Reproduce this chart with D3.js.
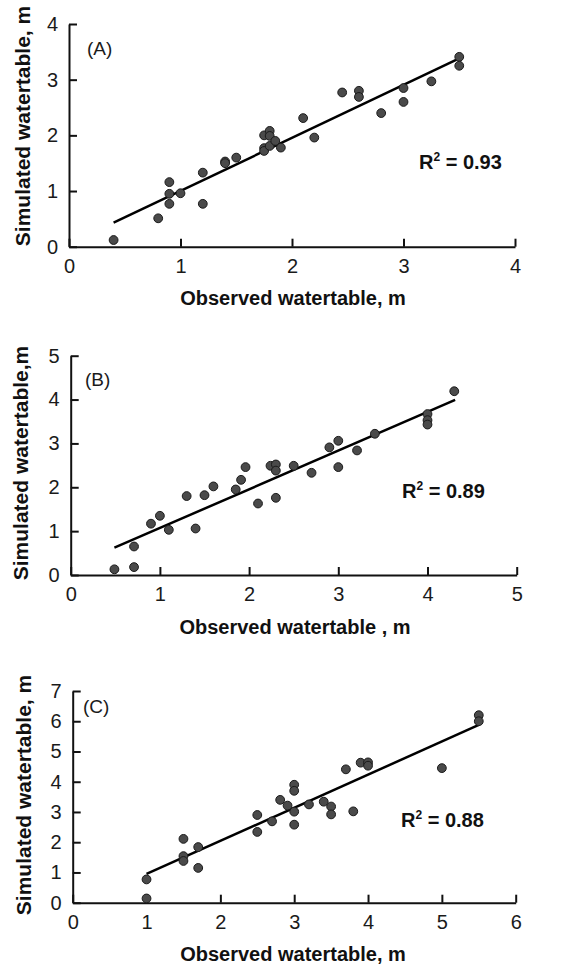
<!DOCTYPE html>
<meta charset="utf-8">
<script src="https://d3js.org/d3.v7.min.js"></script>
<style>
  body { margin: 0; background: #fff; }
  text { font-family: "Liberation Sans", Arial, sans-serif; }
</style>
<div id="chart"></div>
<script>
// Observed vs simulated watertable (m) for the three panels.
var obsA = [0.4, 0.8, 0.9, 0.9, 0.9, 1.0, 1.2, 1.2, 1.4, 1.4, 1.5, 1.75, 1.75, 1.75, 1.8, 1.8, 1.8, 1.85, 1.9, 2.1, 2.2, 2.45, 2.6, 2.6, 2.8, 3.0, 3.0, 3.25, 3.5, 3.5];
var simA = [0.12, 0.51, 1.16, 0.95, 0.77, 0.96, 1.33, 0.77, 1.53, 1.50, 1.60, 2.0, 1.77, 1.72, 2.08, 1.99, 1.81, 1.90, 1.78, 2.31, 1.96, 2.77, 2.80, 2.69, 2.40, 2.85, 2.60, 2.97, 3.41, 3.25];

var obsB = [0.49, 0.71, 0.71, 0.9, 1.0, 1.1, 1.3, 1.4, 1.5, 1.6, 1.85, 1.91, 1.96, 2.1, 2.24, 2.3, 2.3, 2.3, 2.5, 2.7, 2.9, 3.0, 3.0, 3.21, 3.41, 4.0, 4.0, 4.0, 4.3];
var simB = [0.13, 0.65, 0.18, 1.17, 1.35, 1.03, 1.80, 1.06, 1.82, 2.02, 1.95, 2.17, 2.46, 1.63, 2.49, 2.52, 2.38, 1.76, 2.49, 2.33, 2.91, 3.06, 2.46, 2.84, 3.22, 3.67, 3.53, 3.43, 4.19];

var obsC = [1.0, 1.0, 1.5, 1.5, 1.5, 1.7, 1.7, 2.5, 2.5, 2.7, 2.81, 2.91, 3.0, 3.0, 3.0, 3.0, 3.2, 3.4, 3.5, 3.5, 3.8, 3.7, 3.9, 4.0, 4.0, 5.0, 5.5, 5.5];
var simC = [0.77, 0.14, 2.11, 1.54, 1.38, 1.84, 1.15, 2.90, 2.34, 2.69, 3.40, 3.21, 3.90, 3.70, 3.01, 2.58, 3.25, 3.34, 3.18, 2.92, 3.02, 4.41, 4.63, 4.64, 4.53, 4.45, 6.20, 6.00];

// Fitted lines: slope, intercept, x range.
var fitSlope = [0.952, 0.882, 1.095];
var fitIntercept = [0.05, 0.19, -0.145];
var fitFrom = [0.4, 0.49, 1.0];
var fitTo = [3.5, 4.31, 5.5];

var panelNames = ["(A)", "(B)", "(C)"];
var r2Labels = ["0.93", "0.89", "0.88"];
var xMax = [4, 5, 6];
var yMax = [4, 5, 7];
var xTitles = ["Observed watertable, m", "Observed watertable , m", "Observed watertable, m"];
var yTitles = ["Simulated watertable, m", "Simulated watertable,m", "Simulated watertable, m"];

var points = [[obsA, simA], [obsB, simB], [obsC, simC]];

// Pixel layout of each panel.
var layout = [
  {x0: 69, x1: 515, y0: 246.7, y1: 24, yTitleX: 30, yTitleY: 126, xTitleX: 293, xTitleY: 305,
   tagX: 87, tagY: 55, r2X: 419, r2Y: 169},
  {x0: 70.7, x1: 516.7, y0: 575, y1: 355.7, yTitleX: 28, yTitleY: 463, xTitleX: 295, xTitleY: 634,
   tagX: 85, tagY: 386, r2X: 402, r2Y: 498},
  {x0: 72.7, x1: 515.7, y0: 902.7, y1: 691, yTitleX: 31, yTitleY: 795, xTitleX: 293, xTitleY: 961,
   tagX: 83, tagY: 713, r2X: 401, r2Y: 827}
];

var svg = d3.select("#chart")
  .append("svg")
  .attr("width", 576)
  .attr("height", 965);

layout.forEach(function(p, i) {
  var x = d3.scaleLinear().domain([0, xMax[i]]).range([p.x0, p.x1]);
  var y = d3.scaleLinear().domain([0, yMax[i]]).range([p.y0, p.y1]);
  var g = svg.append("g");

  // Axes with inward ticks.
  var ax = g.append("g")
    .attr("transform", "translate(0," + p.y0 + ")")
    .call(d3.axisBottom(x).ticks(xMax[i]).tickSizeInner(-8).tickSizeOuter(0).tickPadding(12));
  var ay = g.append("g")
    .attr("transform", "translate(" + p.x0 + ",0)")
    .call(d3.axisLeft(y).ticks(yMax[i]).tickSizeInner(-8).tickSizeOuter(0).tickPadding(11));

  [ax, ay].forEach(function(a) {
    a.attr("font-family", null).attr("font-size", null);
    a.select(".domain").attr("stroke", "#111").attr("stroke-width", 2);
    a.selectAll(".tick line").attr("stroke", "#111").attr("stroke-width", 2);
    a.selectAll(".tick text").attr("fill", "#1a1a1a").style("font-size", "20px");
  });

  // Regression line.
  g.append("line")
    .attr("x1", x(fitFrom[i]))
    .attr("y1", y(fitSlope[i] * fitFrom[i] + fitIntercept[i]))
    .attr("x2", x(fitTo[i]))
    .attr("y2", y(fitSlope[i] * fitTo[i] + fitIntercept[i]))
    .attr("stroke", "#000")
    .attr("stroke-width", 2.5);

  // Points.
  var obs = points[i][0], sim = points[i][1];
  g.append("g")
    .selectAll("circle")
    .data(d3.range(obs.length))
    .enter()
    .append("circle")
    .attr("cx", function(k) { return x(obs[k]); })
    .attr("cy", function(k) { return y(sim[k]); })
    .attr("r", 4.4)
    .attr("fill", "#4a4a4a")
    .attr("stroke", "#1a1a1a")
    .attr("stroke-width", 1);

  // Panel tag.
  g.append("text")
    .attr("x", p.tagX)
    .attr("y", p.tagY)
    .style("font-size", "19px")
    .attr("fill", "#1a1a1a")
    .text(panelNames[i]);

  // R squared.
  var r2 = g.append("text")
    .attr("x", p.r2X)
    .attr("y", p.r2Y)
    .style("font-size", "20px")
    .style("font-weight", "bold")
    .attr("fill", "#111");
  r2.append("tspan").text("R");
  r2.append("tspan").attr("dy", -8).style("font-size", "12px").text("2");
  r2.append("tspan").attr("dy", 8).text(" = " + r2Labels[i]);

  // Axis titles.
  g.append("text")
    .attr("x", p.xTitleX)
    .attr("y", p.xTitleY)
    .attr("text-anchor", "middle")
    .style("font-size", "20px")
    .style("font-weight", "bold")
    .attr("fill", "#111")
    .text(xTitles[i]);

  g.append("text")
    .attr("transform", "translate(" + p.yTitleX + "," + p.yTitleY + ") rotate(-90)")
    .attr("text-anchor", "middle")
    .style("font-size", "21px")
    .style("font-weight", "bold")
    .attr("fill", "#111")
    .text(yTitles[i]);
});
</script>
